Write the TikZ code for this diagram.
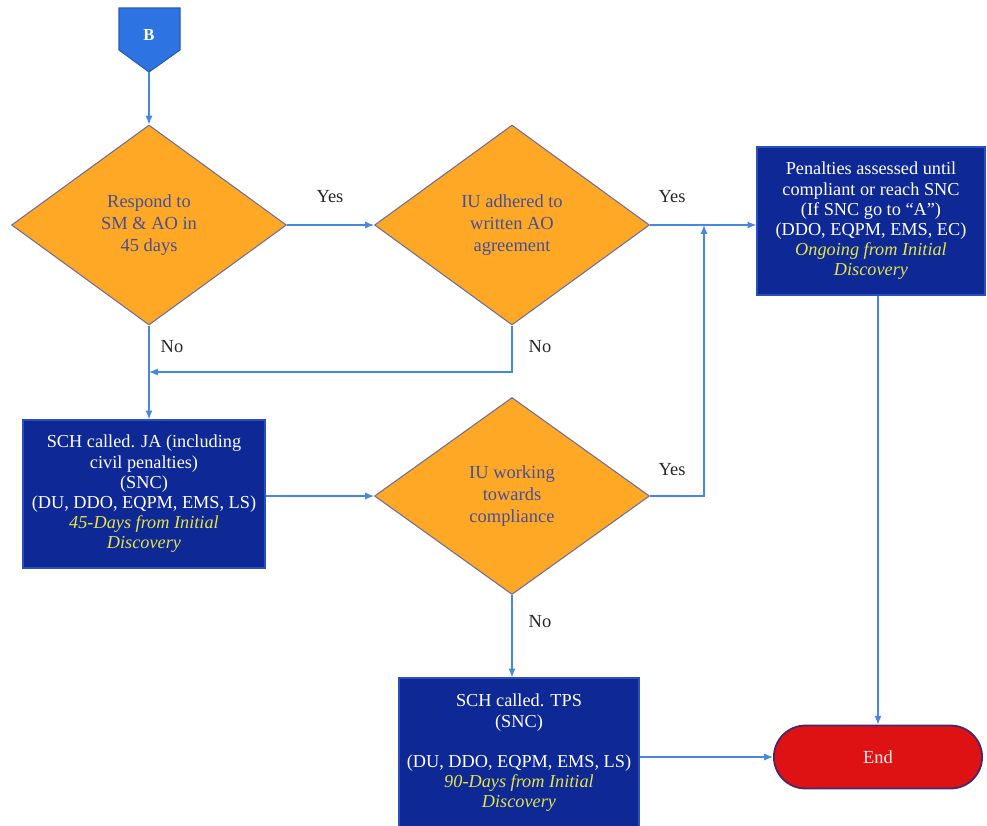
\documentclass[tikz,border=0pt]{standalone}
\usepackage{fontspec}
\setmainfont{Liberation Serif}
\usetikzlibrary{shapes.geometric, shapes.misc, arrows.meta}

\definecolor{boxblue}{RGB}{14,40,150}
\definecolor{boxedge}{RGB}{40,80,190}
\definecolor{diaorange}{RGB}{255,168,38}
\definecolor{diaedge}{RGB}{110,110,150}
\definecolor{diatext}{RGB}{70,80,150}
\definecolor{linkblue}{RGB}{70,135,225}
\definecolor{noteyellow}{RGB}{228,228,70}
\definecolor{endred}{RGB}{222,18,18}
\definecolor{endedge}{RGB}{70,40,110}
\definecolor{pageblue}{RGB}{45,115,225}

\begin{document}
\begin{tikzpicture}[
	x=0.02cm, y=-0.02cm,
	font=\fontsize{10.5}{12.5}\selectfont,
	decision/.style={diamond, draw=diaedge, fill=diaorange, text=diatext, line width=0.6pt,
		minimum width=5.5cm, minimum height=4cm, inner sep=0pt, align=center},
	process/.style={rectangle, draw=boxedge, fill=boxblue, text=white, line width=0.8pt,
		inner sep=2pt, align=center, font=\fontsize{10.4}{11.5}\selectfont},
	terminal/.style={rounded rectangle, draw=endedge, fill=endred, text=red!8, line width=1pt,
		minimum width=4.4cm, minimum height=1.26cm},
	offpage/.style={fill=pageblue, draw=pageblue!80!black, line width=0.6pt},
	arrow/.style={-{Latex[length=5pt, width=4pt]}, line width=0.7pt, color=linkblue},
	lbl/.style={text=black!85}
	]
	
	\useasboundingbox (0,0) rectangle (987,825);
	
	% Off-page connector
	\filldraw[offpage] (119,8) -- (180,8) -- (180,50) -- (149,72) -- (119,50) -- cycle;
	\node[text=white, font=\fontsize{9.5}{11}\selectfont\bfseries] (B) at (149,35) {B};
	\coordinate (Btip) at (149,72);
	
	% Decisions
	\node[decision] (respond) at (149,225) {Respond to\\SM \& AO in\\45 days};
	\node[decision] (adhered) at (512,225) {IU adhered to\\written AO\\agreement};
	\node[decision, minimum height=3.94cm] (working) at (512,496) {IU working\\towards\\compliance};
	
	% Actions
	\node[process, minimum width=4.56cm, minimum height=2.96cm] (penalty) at (871,221)
		{Penalties assessed until\\compliant or reach SNC\\(If SNC go to ``A'')\\(DDO, EQPM, EMS, EC)\\
		\textcolor{noteyellow}{\itshape Ongoing from Initial}\\\textcolor{noteyellow}{\itshape Discovery}};
	\node[process, minimum width=4.84cm, minimum height=2.96cm] (schja) at (144,494)
		{SCH called. JA (including\\civil penalties)\\(SNC)\\(DU, DDO, EQPM, EMS, LS)\\
		\textcolor{noteyellow}{\itshape 45-Days from Initial}\\\textcolor{noteyellow}{\itshape Discovery}};
	\node[process, minimum width=4.8cm, minimum height=3cm] (tps) at (519,753)
		{SCH called. TPS\\(SNC)\\[11.5pt](DU, DDO, EQPM, EMS, LS)\\
		\textcolor{noteyellow}{\itshape 90-Days from Initial}\\\textcolor{noteyellow}{\itshape Discovery}};
	\node[terminal] (finish) at (878,757) {End};
	
	% Junctions
	\coordinate (merge) at (149,372);
	\coordinate (rise) at (704,225);
	
	% Arrows
	\draw[arrow] (Btip) -- (respond.north);
	\draw[arrow] (respond.east) -- (adhered.west);
	\draw[arrow] (adhered.east) -- (adhered.east -| penalty.west);
	\draw[arrow] (respond.south) -- (respond.south |- schja.north);
	\draw[arrow] (adhered.south) |- (merge);
	\draw[arrow] (schja.east |- working.west) -- (working.west);
	\draw[arrow] (working.east) -| (rise);
	\draw[arrow] (working.south) -- (working.south |- tps.north);
	\draw[arrow] (tps.east |- finish.west) -- (finish.west);
	\draw[arrow] (finish.north |- penalty.south) -- (finish.north);
	
	% Labels
	\node[lbl] (yes1) at (330,197) {Yes};
	\node[lbl] (yes2) at (672,197) {Yes};
	\node[lbl] (yes3) at (672,470) {Yes};
	\node[lbl] (no1) at (172,347) {No};
	\node[lbl] (no2) at (540,347) {No};
	\node[lbl] (no3) at (540,622) {No};
	
\end{tikzpicture}
\end{document}
